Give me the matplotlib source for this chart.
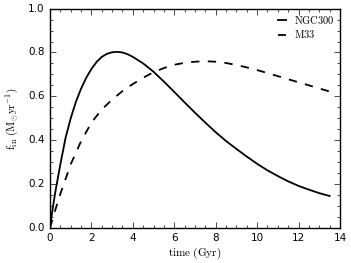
import matplotlib
matplotlib.use('Agg')
import matplotlib.pyplot as plt
from matplotlib.ticker import MultipleLocator

# Values
time_ngc300 = [0.0, 0.1, 0.25, 0.5, 0.75, 1.0, 1.25, 1.5, 1.75, 2.0, 2.25, 2.5, 2.75,
               3.0, 3.25, 3.5, 3.75, 4.0, 4.5, 5.0, 5.5, 6.0, 6.5, 7.0, 7.5, 8.0, 8.5,
               9.0, 9.5, 10.0, 10.5, 11.0, 11.5, 12.0, 12.5, 13.0, 13.5]
fin_ngc300 = [0.0, 0.07, 0.16, 0.29, 0.41, 0.50, 0.575, 0.635, 0.685, 0.725, 0.757,
              0.78, 0.794, 0.801, 0.803, 0.80, 0.792, 0.78, 0.75, 0.712, 0.667, 0.62,
              0.572, 0.525, 0.48, 0.436, 0.396, 0.36, 0.325, 0.292, 0.262, 0.236,
              0.212, 0.191, 0.174, 0.158, 0.145]

time_m33 = [0.0, 0.25, 0.5, 1.0, 1.5, 2.0, 2.5, 3.0, 3.5, 4.0, 4.5, 5.0, 5.5, 6.0,
            6.5, 7.0, 7.5, 8.0, 8.5, 9.0, 9.5, 10.0, 10.5, 11.0, 11.5, 12.0, 12.5,
            13.0, 13.5]
fin_m33 = [0.0, 0.08, 0.155, 0.29, 0.395, 0.48, 0.54, 0.585, 0.624, 0.656, 0.685,
           0.71, 0.729, 0.744, 0.753, 0.758, 0.76, 0.758, 0.752, 0.743, 0.732, 0.72,
           0.706, 0.692, 0.678, 0.664, 0.65, 0.636, 0.622]

plt.style.use('classic')
plt.rcParams['mathtext.fontset'] = 'cm'
plt.rcParams['font.family'] = 'DejaVu Sans'
plt.rcParams['figure.facecolor'] = 'white'

fig = plt.figure(figsize=(3.51, 2.63), dpi=100)
ax = fig.add_axes([0.1425, 0.134, 0.826, 0.833])

ax.plot(time_ngc300, fin_ngc300, 'k-', lw=1.3, label=r'$\mathrm{NGC300}$')
ax.plot(time_m33, fin_m33, 'k--', lw=1.3, label=r'$\mathrm{M33}$')

ax.set_xlim(0, 14)
ax.set_ylim(0, 1.0)
ax.xaxis.set_major_locator(MultipleLocator(2))
ax.xaxis.set_minor_locator(MultipleLocator(0.5))
ax.yaxis.set_major_locator(MultipleLocator(0.2))
ax.yaxis.set_minor_locator(MultipleLocator(0.05))
ax.tick_params(which='both', direction='in', top=True, right=True, labelsize=7.5)
ax.tick_params(which='major', length=4)
ax.tick_params(which='minor', length=2)

ax.set_xlabel(r'$\mathrm{time\ (Gyr)}$', fontsize=8, labelpad=2)
ax.set_ylabel(r'$\mathrm{f_{in}\ (M_{\odot}yr^{-1})}$', fontsize=8)

ax.legend(loc='upper right', frameon=False, fontsize=7.5, handlelength=1.3,
          handletextpad=0.5, labelspacing=0.25, borderaxespad=0.3, borderpad=0.2)

fig.savefig('out.png', dpi=100)
